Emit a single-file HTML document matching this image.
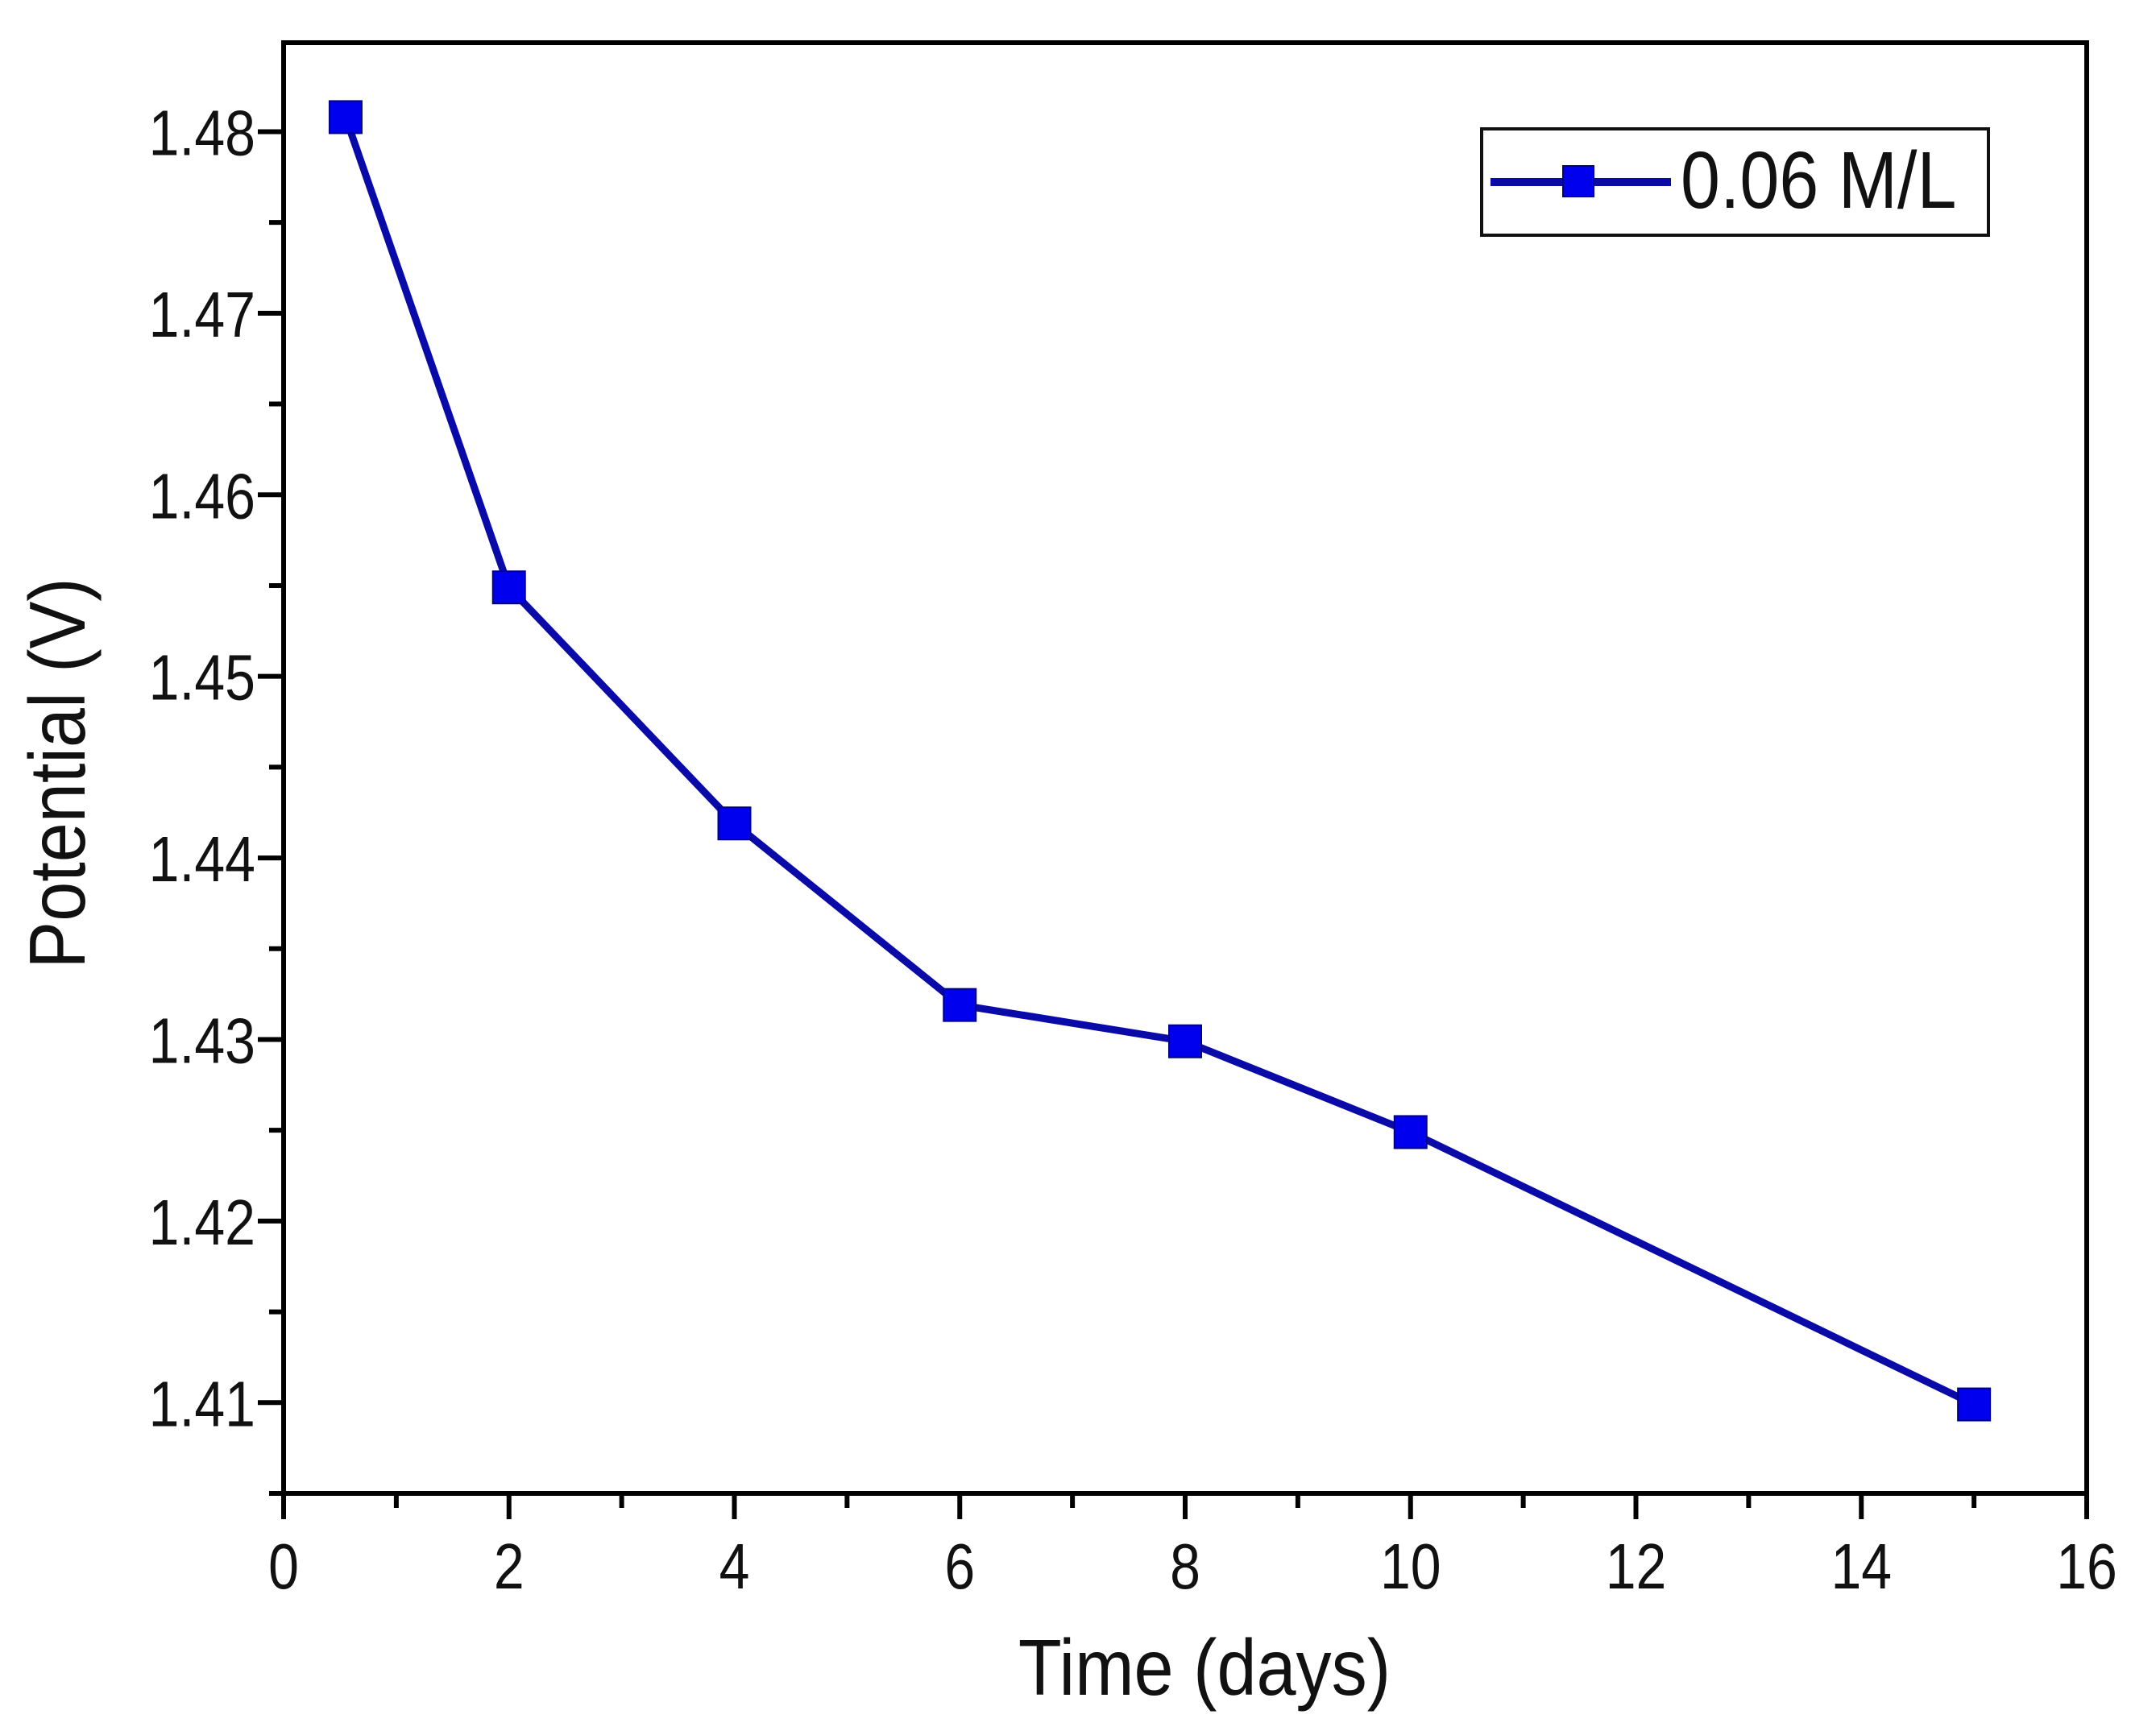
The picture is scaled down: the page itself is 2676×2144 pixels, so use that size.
<!DOCTYPE html>
<html><head><meta charset="utf-8"><style>
html,body{margin:0;padding:0;background:#fff;}
svg{display:block;font-family:"Liberation Sans",Arial,sans-serif;}
</style></head><body>
<svg id="chart" width="2676" height="2144" viewBox="0 0 2676 2144" xmlns="http://www.w3.org/2000/svg">
<rect width="2676" height="2144" fill="#fff"/>
<g id="plot"></g>
<text x="0" y="0" transform="translate(105,960) rotate(-90) scale(0.9,1)" text-anchor="middle" font-size="98" fill="#111">Potential (V)</text>
<text x="0" y="0" transform="translate(1495,2104) scale(0.9,1)" text-anchor="middle" font-size="98" fill="#111">Time (days)</text>
<g>
<rect x="1839" y="160" width="629" height="132" fill="#fff" stroke="#111" stroke-width="4"/>
<line x1="1850" y1="226" x2="2074" y2="226" stroke="#0a0aa8" stroke-width="10"/>
<rect x="1940" y="206" width="38" height="38" fill="#0000ee" stroke="#00008a" stroke-width="2"/>
<text x="0" y="0" transform="translate(2086,258) scale(0.88,1)" font-size="100" fill="#111">0.06 M/L</text>
</g>
</svg>
<script>
const xValues = [0.55, 2, 4, 6, 8, 10, 15];
const yValues = [1.4808, 1.4549, 1.4419, 1.4319, 1.4299, 1.4249, 1.4099];
const xTickLabels = ["0","2","4","6","8","10","12","14","16"];
const yTickLabels = ["1.41","1.42","1.43","1.44","1.45","1.46","1.47","1.48"];

const L=352,R=2590,T=53,B=1854;
const xMin=0,xMax=16,yMin=1.405,yMax=1.4849;
const sx=v=>L+(v-xMin)/(xMax-xMin)*(R-L);
const sy=v=>B-(v-yMin)/(yMax-yMin)*(B-T);
const NS="http://www.w3.org/2000/svg";
const g=document.getElementById('plot');
function mk(tag,attrs){const e=document.createElementNS(NS,tag);for(const k in attrs)e.setAttribute(k,attrs[k]);g.appendChild(e);return e;}

let fr=mk('rect',{x:L,y:T,width:R-L,height:B-T,fill:'none',stroke:'#000','stroke-width':6});



for(let v=0;v<=16;v++){
  const major=v%2===0;
  const t=mk('line',{x1:sx(v),y1:B,x2:sx(v),y2:B+(major?32:18),stroke:'#000','stroke-width':6});
  
  
}
xTickLabels.forEach((s)=>{
  const t=mk('text',{transform:'translate('+sx(parseFloat(s))+',1972) scale(0.85,1)','text-anchor':'middle','font-size':80,fill:'#111'});
  t.textContent=s;
  
  
});
for(let i=0;i<=15;i++){
  const v=1.405+i*0.005;
  const major=i%2===1;
  const t=mk('line',{x1:L,y1:sy(v),x2:L-(major?32:18),y2:sy(v),stroke:'#000','stroke-width':6});
  
  
}
yTickLabels.forEach((s)=>{
  const t=mk('text',{transform:'translate(317,'+(sy(parseFloat(s))+29)+') scale(0.85,1)','text-anchor':'end','font-size':80,fill:'#111'});
  t.textContent=s;
  
  
});
const pts=xValues.map((x,i)=>sx(x)+','+sy(yValues[i])).join(' ');
const pl=mk('polyline',{points:pts,fill:'none',stroke:'#0a0aa8','stroke-width':9,'stroke-linejoin':'round'});


xValues.forEach((x,i)=>{
  const m=mk('rect',{x:sx(x)-20,y:sy(yValues[i])-20,width:40,height:40,fill:'#0000ee',stroke:'#00008a','stroke-width':2});
  
  
});
</script>
</body></html>
